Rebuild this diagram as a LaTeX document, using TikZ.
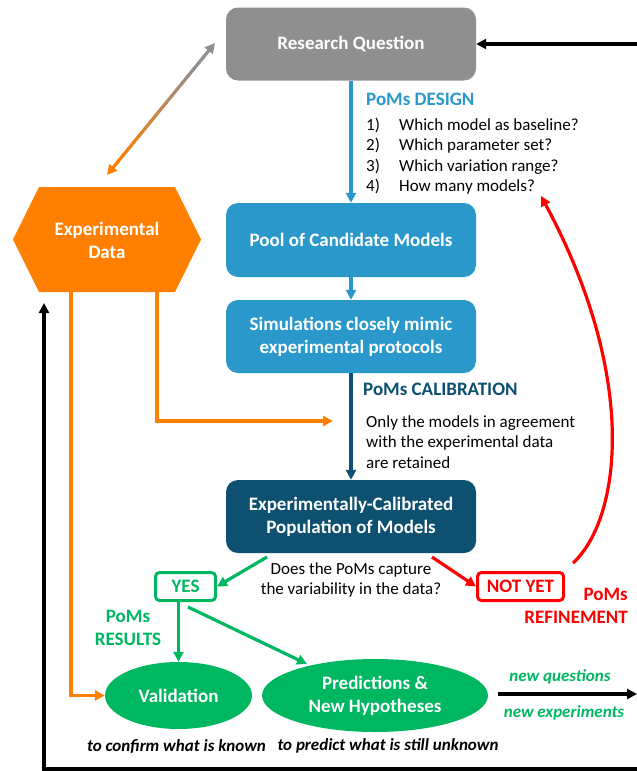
\documentclass[tikz,border=0pt]{standalone}
\usepackage{fontspec}
\setmainfont{Carlito}
\usetikzlibrary{arrows.meta,shapes.geometric,calc}
\definecolor{rqgray}{HTML}{8F8F8F}
\definecolor{pblue}{HTML}{2A98CB}
\definecolor{pdark}{HTML}{0D5070}
\definecolor{porange}{HTML}{FF7F00}
\definecolor{pgreen}{HTML}{00B761}
\definecolor{pred}{HTML}{FF0000}
\newcommand\pbold{\fontsize{19}{23}\selectfont\bfseries}
\newcommand\ptext{\fontsize{17}{20.5}\selectfont}
\newcommand\pital{\fontsize{17}{20.5}\selectfont\bfseries\itshape}
\begin{document}
\begin{tikzpicture}[x=1pt,y=-1pt,
  tipx/.style={-{Triangle[length=10pt,width=10pt]}},
  conn/.style={line width=3.2pt, tipx},
  box/.style={rounded corners=12pt, minimum width=250pt, minimum height=73pt, inner sep=0pt, text=white, align=center, font=\pbold},
  answer/.style={draw, line width=3pt, rounded corners=4pt, inner sep=0pt, font=\pbold},
  oval/.style={ellipse, fill=pgreen, inner sep=0pt, text=white, align=center, font=\pbold},
  lbl/.style={inner sep=0pt, font=\ptext, align=left},
  hdr/.style={inner sep=0pt, font=\pbold, align=center}
]
\useasboundingbox (0,0) rectangle (637,771);

% main column
\node[box, fill=rqgray] (rq) at (351,44) {Research Question};
\node[box, fill=pblue, minimum height=74pt] (pool) at (351,240) {Pool of Candidate Models};
\node[box, fill=pblue] (sim) at (351,336.5) {Simulations closely mimic\\experimental protocols};
\node[box, fill=pdark] (cal) at (351,516.5) {Experimentally-Calibrated\\Population of Models};

% experimental data hexagon
\fill[porange] (39,187) -- (175,187) -- (201,239.5) -- (175,292) -- (39,292) -- (13,239.5) -- cycle;
\node[hdr, text=white] (exp) at (107,240) {Experimental\\Data};
\coordinate (expA) at (71,292);
\coordinate (expB) at (157,292);

% design
\node[hdr, text=pblue, anchor=west] (design) at (366,99) {PoMs DESIGN};
\node[lbl, anchor=west] (dlist) at (366,156) {\makebox[33pt][l]{1)}Which model as baseline?\\\makebox[33pt][l]{2)}Which parameter set?\\\makebox[33pt][l]{3)}Which variation range?\\\makebox[33pt][l]{4)}How many models?};

% calibration
\node[hdr, text=pdark, anchor=west] (calib) at (363,389) {PoMs CALIBRATION};
\node[lbl, anchor=west] (ctext) at (366,442) {Only the models in agreement\\with the experimental data\\are retained};

% question
\node[lbl, align=center] (quest) at (351,580) {Does the PoMs capture\\the variability in the data?};

% answers
\node[answer, draw=pgreen, text=pgreen, minimum width=60pt, minimum height=28pt] (yes) at (185.5,586.5) {YES};
\node[answer, draw=pred, text=pred, minimum width=86pt, minimum height=28pt] (notyet) at (520.5,586.5) {NOT YET};
\node[hdr, text=pgreen] (results) at (128,627.5) {PoMs\\RESULTS};
\node[hdr, text=pred, align=right, anchor=east] (refine) at (628,605.5) {PoMs\\REFINEMENT};

% results
\node[oval, minimum width=147pt, minimum height=67pt] (val) at (178.5,695.5) {Validation};
\node[oval, minimum width=226pt, minimum height=73pt] (pre) at (375,695.5) {Predictions \&\\New Hypotheses};
\node[inner sep=0pt, font=\pital] (confirm) at (176.5,747) {to confirm what is known};
\node[inner sep=0pt, font=\pital] (predict) at (388,746) {to predict what is still unknown};
\node[inner sep=0pt, font=\pital, text=pgreen] (newq) at (560,677) {new questions};
\node[inner sep=0pt, font=\pital, text=pgreen] (newe) at (564,713) {new experiments};

% coordinates for free ends
\coordinate (rqin) at (637,44);
\coordinate (loopR) at (637,769);
\coordinate (loopL) at (44,769);
\coordinate (loopT) at (44,303);
\coordinate (outR) at (637,694);
\coordinate (calTip) at (333,421);
\coordinate (yesFrom) at (267,557);
\coordinate (notFrom) at (432,557);
\coordinate (yesB) at (188,607);
\coordinate (preIn) at (307,664);
\coordinate (redS) at (573,563);
\coordinate (redT) at (541,196);
\coordinate (ea) at (107,175);
\coordinate (eb) at (215,43);

% connectors main column
\draw[conn, pblue] (rq.south) -- (pool.north);
\draw[conn, pblue] (pool.south) -- (sim.north);
\draw[conn, pdark] (sim.south) -- (cal.north);

% black loop
\draw[conn, black] (rqin) -- (rq.east);
\draw[conn, black, line join=miter] (loopR) -- (loopL) -- (loopT);
\draw[conn, black, shorten <=10pt] (pre.east |- outR) -- (outR);

% orange
\draw[conn, porange, line join=miter] (expB) |- (calTip);
\draw[conn, porange, line join=miter] (expA) |- (val.west);

% gradient double arrow
\foreach \i in {2,...,17} {
  \pgfmathsetmacro\pa{\i/20-0.004}
  \pgfmathsetmacro\pb{(\i+1)/20+0.004}
  \pgfmathsetmacro\pc{max(0,min(100,110-7*\i))}
  \draw[line width=3.2pt, color=porange!\pc!rqgray] ($(ea)!\pa!(eb)$) -- ($(ea)!\pb!(eb)$);
}
\draw[conn, porange] ($(ea)!0.11!(eb)$) -- (ea);
\draw[conn, rqgray] ($(ea)!0.89!(eb)$) -- (eb);

% green
\draw[conn, pgreen] (yesFrom) -- (yes.east);
\draw[conn, pgreen] (yes.south -| val.north) -- (val.north);
\draw[conn, pgreen] (yesB) -- (preIn);

% red
\draw[conn, pred] (notFrom) -- (notyet.west);
\draw[conn, pred] (redS) .. controls (620,520) and (640,380) .. (redT);
\end{tikzpicture}
\end{document}
